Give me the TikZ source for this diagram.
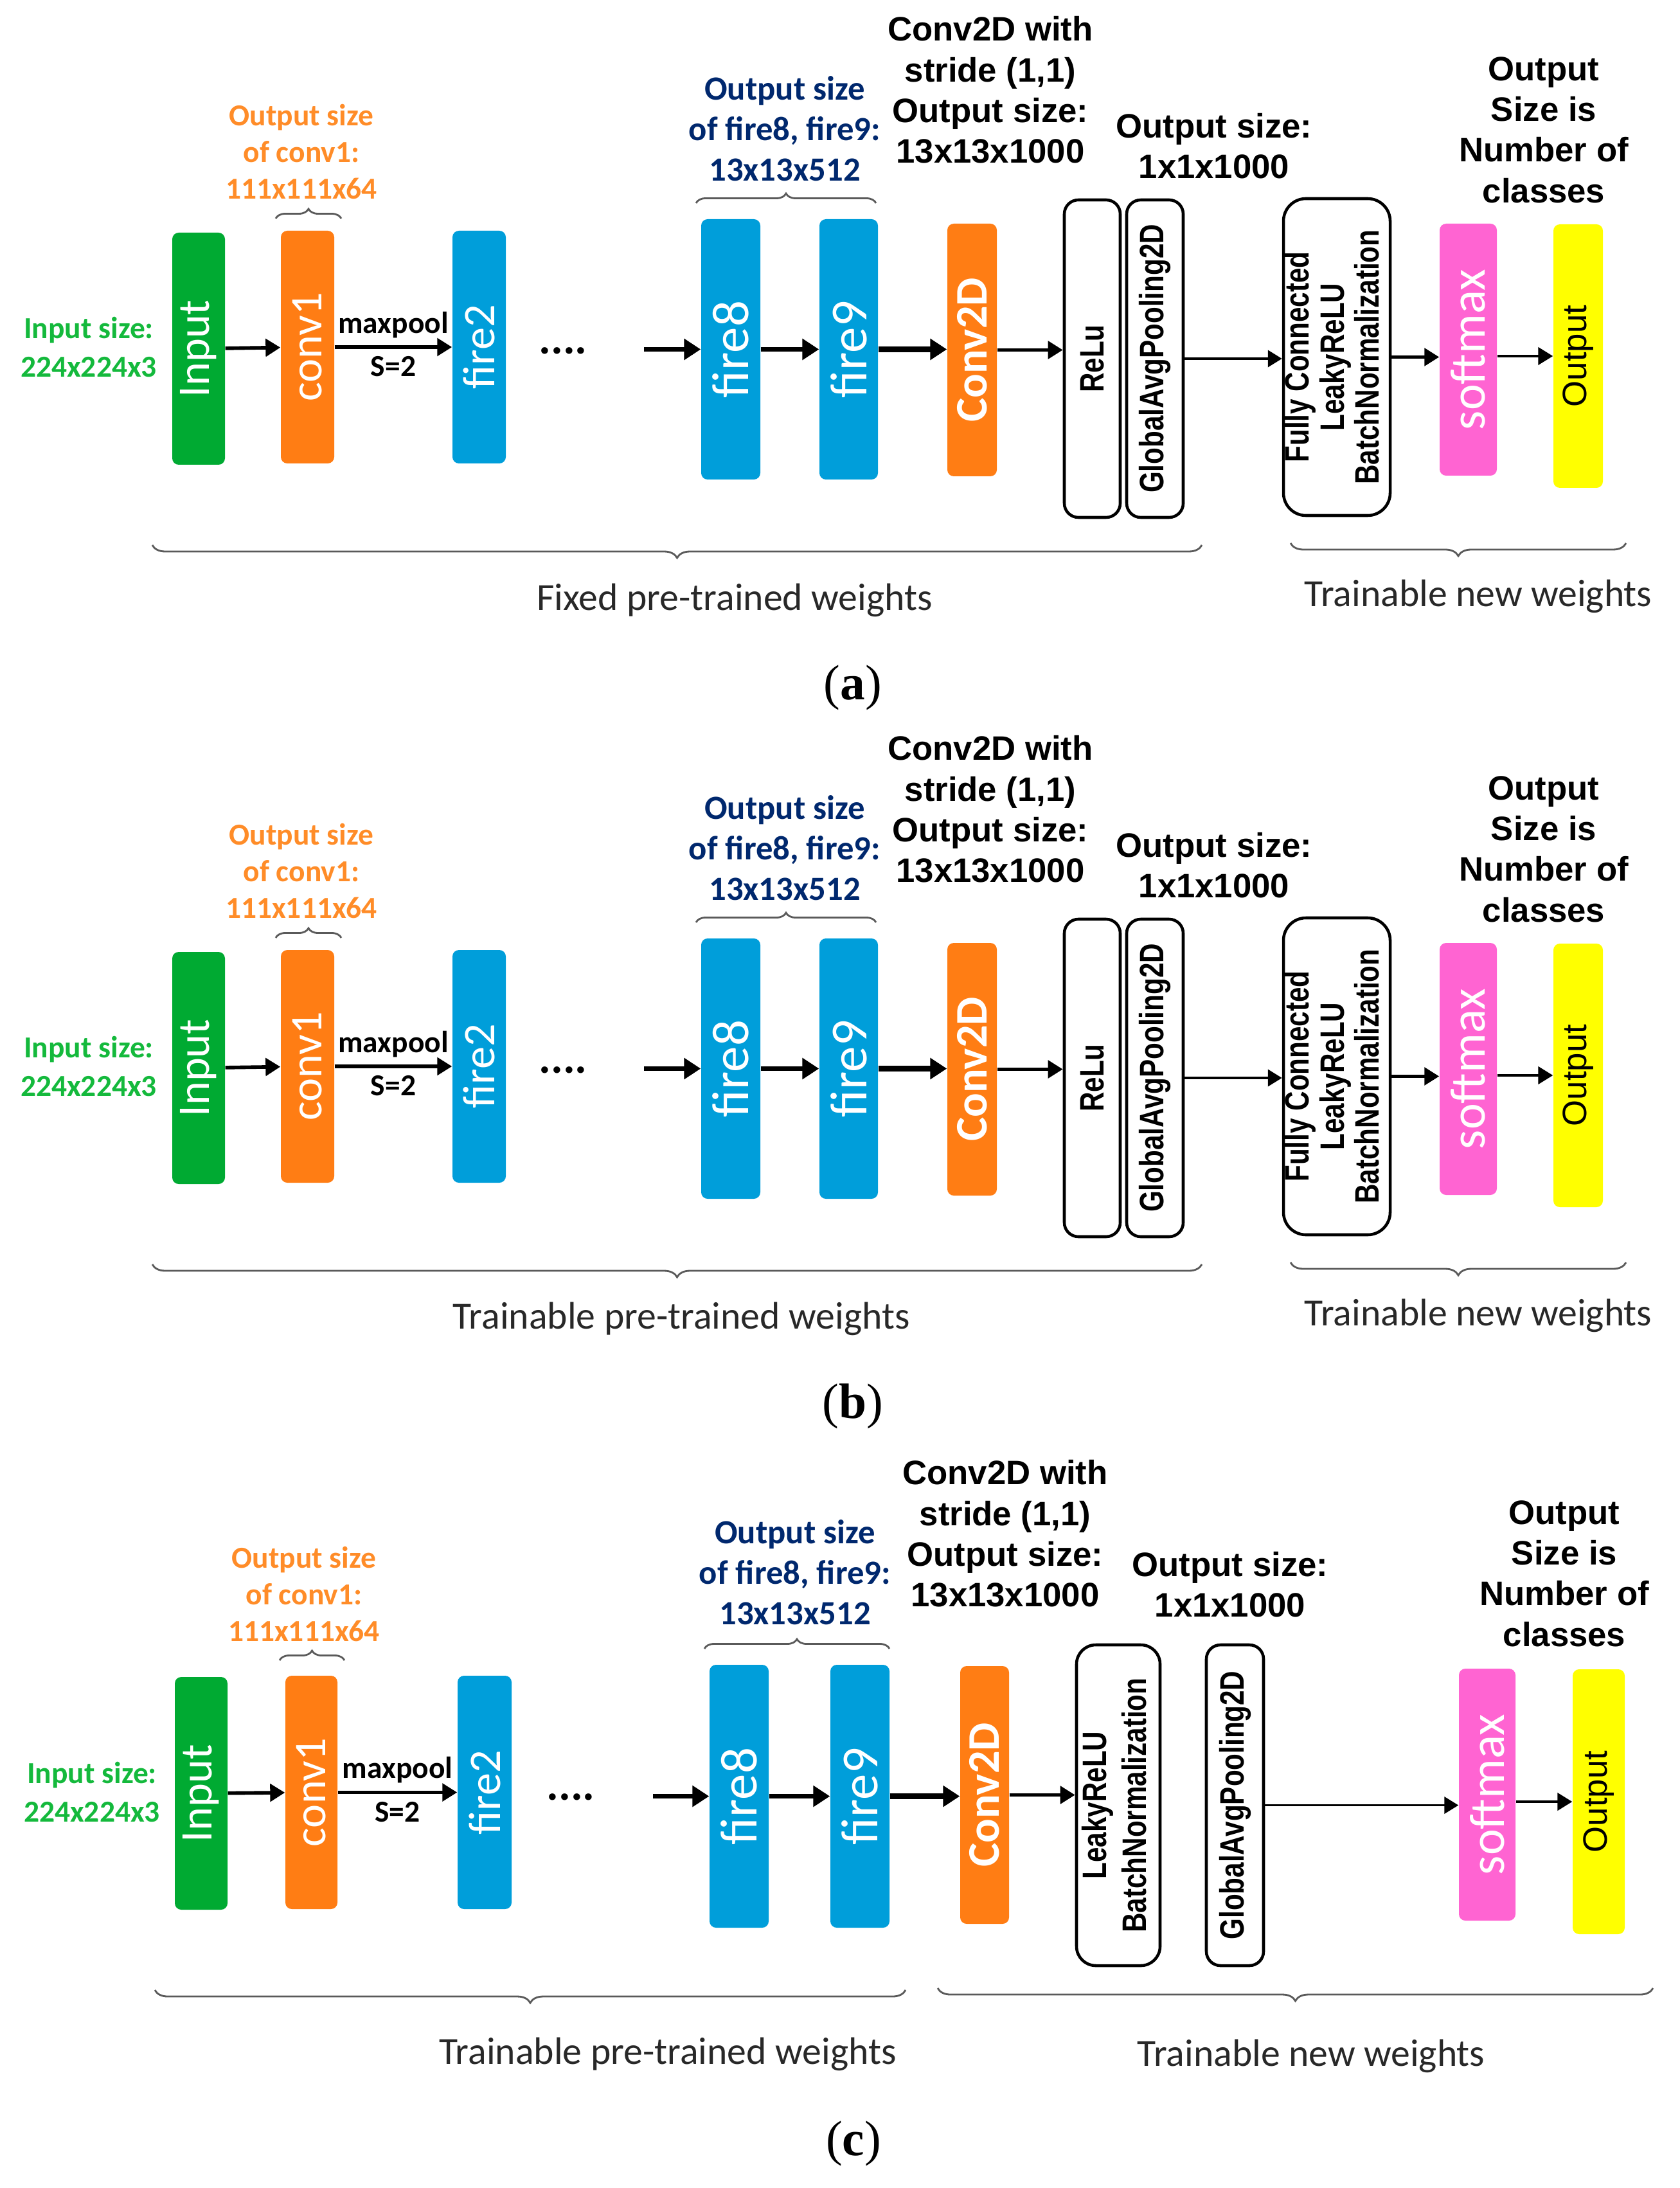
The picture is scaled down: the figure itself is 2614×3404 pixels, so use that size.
\documentclass[tikz,border=0pt]{standalone}
\usepackage{fontspec}
\usetikzlibrary{arrows.meta,decorations.pathreplacing}
\newfontfamily\carlito{Carlito}
\newfontfamily\arialf{Liberation Sans}
\newfontfamily\serifcap{Liberation Serif}
\definecolor{boxgreen}{RGB}{0,170,50}
\definecolor{boxorange}{RGB}{255,125,20}
\definecolor{boxblue}{RGB}{0,158,218}
\definecolor{boxpink}{RGB}{255,100,210}
\definecolor{boxyellow}{RGB}{255,255,0}
\definecolor{txtorange}{RGB}{255,140,40}
\definecolor{txtnavy}{RGB}{0,40,110}
\definecolor{txtgreen}{RGB}{20,185,60}
\definecolor{txtgray}{RGB}{40,40,40}
\definecolor{bracegray}{RGB}{90,90,90}
\newcommand{\vtxt}[1]{\rotatebox{90}{#1}}
\newcommand{\vbold}[1]{\rotatebox{90}{\scalebox{1}[1.25]{#1}}}
\begin{document}
\begin{tikzpicture}[x=0.1mm, y=-0.1mm,
    layer/.style={rectangle, rounded corners=1mm, inner sep=0pt, text=white,
      font=\carlito\fontsize{20}{24}\selectfont},
    plainlayer/.style={rectangle, draw, line width=1.3pt, rounded corners=2.2mm,
      fill=white, inner sep=0pt, font=\arialf\bfseries\fontsize{12}{12.5}\selectfont},
    arr/.style={-{Triangle[length=2.3mm,width=2.7mm]}, line width=1.6pt},
    bigarr/.style={-{Triangle[length=2.6mm,width=3.2mm]}, line width=2.2pt},
    thinarr/.style={-{Triangle[length=2.2mm,width=2.6mm]}, line width=1.1pt},
    brc/.style={decorate, decoration={brace, amplitude=2mm}, line width=0.8pt, draw=bracegray},
    topbrc/.style={brc, decoration={brace, amplitude=1.5mm}},
    toplbl/.style={align=center, font=\arialf\bfseries\fontsize{15}{18}\selectfont},
    orangelbl/.style={align=center, text=txtorange, font=\carlito\bfseries\fontsize{13.5}{16.2}\selectfont},
    navylbl/.style={align=center, text=txtnavy, font=\carlito\bfseries\fontsize{15}{18}\selectfont},
    greenlbl/.style={align=center, text=txtgreen, font=\carlito\bfseries\fontsize{13.5}{17}\selectfont},
    poollbl/.style={font=\carlito\bfseries\fontsize{13.5}{16}\selectfont},
    weightlbl/.style={text=txtgray, font=\carlito\fontsize{17}{20}\selectfont},
    panellbl/.style={font=\serifcap\fontsize{22}{26}\selectfont}]
  \useasboundingbox[fill=white] (0,0) rectangle (2614,3404);

  % (a)
  \node[layer, fill=boxgreen, minimum width=8.2mm, minimum height=36.1mm] (a-in) at (309,542.5) {\vtxt{Input}};
  \node[layer, fill=boxorange, minimum width=8.3mm, minimum height=36.2mm] (a-c1) at (478.5,540) {\vtxt{conv1}};
  \node[layer, fill=boxblue, minimum width=8.3mm, minimum height=36.2mm] (a-f2) at (745.5,540) {\vtxt{fire2}};
  \node[poollbl, font=\carlito\bfseries\fontsize{20}{24}\selectfont] (a-dt) at (876,546) {....};
  \coordinate (a-pre) at (1002,543.5);
  \node[layer, fill=boxblue, minimum width=9.2mm, minimum height=40.5mm, font=\carlito\fontsize{23}{27}\selectfont] (a-f8) at (1137,543.5) {\vtxt{fire8}};
  \node[layer, fill=boxblue, minimum width=9.1mm, minimum height=40.5mm, font=\carlito\fontsize{23}{27}\selectfont] (a-f9) at (1320.5,543.5) {\vtxt{fire9}};
  \node[layer, fill=boxorange, minimum width=7.7mm, minimum height=39.3mm, font=\carlito\bfseries\fontsize{20}{24}\selectfont] (a-cv) at (1512.5,544.5) {\vtxt{Conv2D}};
  \node[plainlayer, minimum width=8.7mm, minimum height=49.4mm] (a-relu) at (1699.5,558) {\vbold{ReLu}};
  \node[plainlayer, minimum width=8.8mm, minimum height=49.4mm] (a-gap) at (1797,558) {\vbold{GlobalAvgPooling2D}};
  \node[plainlayer, rounded corners=3.5mm, minimum width=16.6mm, minimum height=49.3mm] (a-fc) at (2080,555.5)
    {\vbold{\begin{tabular}{@{}c@{}}Fully Connected\\LeakyReLU\\BatchNormalization\end{tabular}}};
  \node[layer, fill=boxpink, minimum width=8.9mm, minimum height=39.2mm, font=\carlito\fontsize{22}{26}\selectfont] (a-sm) at (2284.5,544) {\vtxt{softmax}};
  \node[layer, fill=boxyellow, text=black, minimum width=7.7mm, minimum height=41mm, font=\arialf\fontsize{15}{18}\selectfont] (a-out) at (2455.5,554) {\vtxt{Output}};

  \node[greenlbl] (a-ins) at (138,540) {Input size:\\224x224x3};
  \node[orangelbl] (a-c1s) at (469,236) {Output size\\of conv1:\\111x111x64};
  \node[navylbl] (a-f9s) at (1221,200) {Output size\\of fire8, fire9:\\13x13x512};
  \node[toplbl] (a-cvs) at (1541,140) {Conv2D with\\stride (1,1)\\Output size:\\13x13x1000};
  \node[toplbl] (a-gaps) at (1889,227) {Output size:\\1x1x1000};
  \node[toplbl] (a-sms) at (2402,202) {Output\\Size is\\Number of\\classes};
  \node[weightlbl] (a-fix) at (1143,934) {Fixed pre-trained weights};
  \node[weightlbl] (a-new) at (2300,928) {Trainable new weights};
  \node[panellbl] (a-cap) at (1327,1070) {(\textbf{a})};

  \draw[topbrc] (429,340) -- (531,340);
  \draw[topbrc] (1083,316) -- (1363,316);
  \draw[brc] (1870,848) -- (237,848);
  \draw[brc] (2530,845) -- (2008,845);

  \begin{scope}[arr]
    \draw (a-in) to (a-c1);
    \draw (a-c1) to node[poollbl, above] {maxpool} node[poollbl, below] {S=2} (a-f2);
    \draw[bigarr] (a-pre) to (a-f8);
    \draw[bigarr] (a-f8) to (a-f9);
    \draw[bigarr, line width=2.6pt] (a-f9) to (a-f9 -| a-cv.west);
    \draw (a-cv) to (a-cv -| a-relu.west);
    \draw[thinarr] (a-gap) to (a-gap -| a-fc.west);
    \draw (a-fc) to (a-fc -| a-sm.west);
    \draw[line width=1.3pt] (a-sm.east |- a-out) to (a-out);
  \end{scope}

  % (b)
  \node[layer, fill=boxgreen, minimum width=8.2mm, minimum height=36.1mm] (b-in) at (309,1661.5) {\vtxt{Input}};
  \node[layer, fill=boxorange, minimum width=8.3mm, minimum height=36.2mm] (b-c1) at (478.5,1659) {\vtxt{conv1}};
  \node[layer, fill=boxblue, minimum width=8.3mm, minimum height=36.2mm] (b-f2) at (745.5,1659) {\vtxt{fire2}};
  \node[poollbl, font=\carlito\bfseries\fontsize{20}{24}\selectfont] (b-dt) at (876,1665) {....};
  \coordinate (b-pre) at (1002,1662.5);
  \node[layer, fill=boxblue, minimum width=9.2mm, minimum height=40.5mm, font=\carlito\fontsize{23}{27}\selectfont] (b-f8) at (1137,1662.5) {\vtxt{fire8}};
  \node[layer, fill=boxblue, minimum width=9.1mm, minimum height=40.5mm, font=\carlito\fontsize{23}{27}\selectfont] (b-f9) at (1320.5,1662.5) {\vtxt{fire9}};
  \node[layer, fill=boxorange, minimum width=7.7mm, minimum height=39.3mm, font=\carlito\bfseries\fontsize{20}{24}\selectfont] (b-cv) at (1512.5,1663.5) {\vtxt{Conv2D}};
  \node[plainlayer, minimum width=8.7mm, minimum height=49.4mm] (b-relu) at (1699.5,1677) {\vbold{ReLu}};
  \node[plainlayer, minimum width=8.8mm, minimum height=49.4mm] (b-gap) at (1797,1677) {\vbold{GlobalAvgPooling2D}};
  \node[plainlayer, rounded corners=3.5mm, minimum width=16.6mm, minimum height=49.3mm] (b-fc) at (2080,1674.5)
    {\vbold{\begin{tabular}{@{}c@{}}Fully Connected\\LeakyReLU\\BatchNormalization\end{tabular}}};
  \node[layer, fill=boxpink, minimum width=8.9mm, minimum height=39.2mm, font=\carlito\fontsize{22}{26}\selectfont] (b-sm) at (2284.5,1663) {\vtxt{softmax}};
  \node[layer, fill=boxyellow, text=black, minimum width=7.7mm, minimum height=41mm, font=\arialf\fontsize{15}{18}\selectfont] (b-out) at (2455.5,1673) {\vtxt{Output}};

  \node[greenlbl] (b-ins) at (138,1659) {Input size:\\224x224x3};
  \node[orangelbl] (b-c1s) at (469,1355) {Output size\\of conv1:\\111x111x64};
  \node[navylbl] (b-f9s) at (1221,1319) {Output size\\of fire8, fire9:\\13x13x512};
  \node[toplbl] (b-cvs) at (1541,1259) {Conv2D with\\stride (1,1)\\Output size:\\13x13x1000};
  \node[toplbl] (b-gaps) at (1889,1346) {Output size:\\1x1x1000};
  \node[toplbl] (b-sms) at (2402,1321) {Output\\Size is\\Number of\\classes};
  \node[weightlbl] (b-tr) at (1060,2052) {Trainable pre-trained weights};
  \node[weightlbl] (b-new) at (2300,2047) {Trainable new weights};
  \node[panellbl] (b-cap) at (1327,2188) {(\textbf{b})};

  \draw[topbrc] (429,1459) -- (531,1459);
  \draw[topbrc] (1083,1435) -- (1363,1435);
  \draw[brc] (1870,1967) -- (237,1967);
  \draw[brc] (2530,1964) -- (2008,1964);

  \begin{scope}[arr]
    \draw (b-in) to (b-c1);
    \draw (b-c1) to node[poollbl, above] {maxpool} node[poollbl, below] {S=2} (b-f2);
    \draw[bigarr] (b-pre) to (b-f8);
    \draw[bigarr] (b-f8) to (b-f9);
    \draw[bigarr, line width=2.6pt] (b-f9) to (b-f9 -| b-cv.west);
    \draw (b-cv) to (b-cv -| b-relu.west);
    \draw[thinarr] (b-gap) to (b-gap -| b-fc.west);
    \draw (b-fc) to (b-fc -| b-sm.west);
    \draw[line width=1.3pt] (b-sm.east |- b-out) to (b-out);
  \end{scope}

  % (c)
  \node[layer, fill=boxgreen, minimum width=8.2mm, minimum height=36.2mm] (c-in) at (313,2790) {\vtxt{Input}};
  \node[layer, fill=boxorange, minimum width=8.1mm, minimum height=36.3mm] (c-c1) at (484.5,2788.5) {\vtxt{conv1}};
  \node[layer, fill=boxblue, minimum width=8.4mm, minimum height=36.3mm] (c-f2) at (754,2788.5) {\vtxt{fire2}};
  \node[poollbl, font=\carlito\bfseries\fontsize{20}{24}\selectfont] (c-dt) at (888,2796) {....};
  \coordinate (c-pre) at (1016,2794.5);
  \node[layer, fill=boxblue, minimum width=9.2mm, minimum height=40.9mm, font=\carlito\fontsize{23}{27}\selectfont] (c-f8) at (1150,2794.5) {\vtxt{fire8}};
  \node[layer, fill=boxblue, minimum width=9.2mm, minimum height=40.9mm, font=\carlito\fontsize{23}{27}\selectfont] (c-f9) at (1338,2794.5) {\vtxt{fire9}};
  \node[layer, fill=boxorange, minimum width=7.6mm, minimum height=40.1mm, font=\carlito\bfseries\fontsize{20}{24}\selectfont] (c-cv) at (1532,2792.5) {\vtxt{Conv2D}};
  \node[plainlayer, rounded corners=3mm, minimum width=13mm, minimum height=49.9mm, font=\arialf\bfseries\fontsize{12}{14}\selectfont] (c-lr) at (1740,2808.5)
    {\vbold{\begin{tabular}{@{}c@{}}LeakyReLU\\BatchNormalization\end{tabular}}};
  \node[plainlayer, minimum width=8.9mm, minimum height=49.9mm] (c-gap) at (1921.5,2808.5) {\vbold{GlobalAvgPooling2D}};
  \node[layer, fill=boxpink, minimum width=8.8mm, minimum height=39.2mm, font=\carlito\fontsize{22}{26}\selectfont] (c-sm) at (2314,2792) {\vtxt{softmax}};
  \node[layer, fill=boxyellow, text=black, minimum width=8.1mm, minimum height=41.2mm, font=\arialf\fontsize{15}{18}\selectfont] (c-out) at (2487.5,2803) {\vtxt{Output}};

  \node[greenlbl] (c-ins) at (143,2788) {Input size:\\224x224x3};
  \node[orangelbl] (c-c1s) at (473,2480) {Output size\\of conv1:\\111x111x64};
  \node[navylbl] (c-f9s) at (1237,2446) {Output size\\of fire8, fire9:\\13x13x512};
  \node[toplbl] (c-cvs) at (1564,2386) {Conv2D with\\stride (1,1)\\Output size:\\13x13x1000};
  \node[toplbl] (c-gaps) at (1914,2465) {Output size:\\1x1x1000};
  \node[toplbl] (c-sms) at (2434,2448) {Output\\Size is\\Number of\\classes};
  \node[weightlbl] (c-tr) at (1039,3196) {Trainable pre-trained weights};
  \node[weightlbl] (c-new) at (2040,3199) {Trainable new weights};
  \node[panellbl] (c-cap) at (1328,3335) {(\textbf{c})};

  \draw[topbrc] (435,2583) -- (536,2583);
  \draw[topbrc] (1096,2565) -- (1384,2565);
  \draw[brc] (1409,3096) -- (241,3096);
  \draw[brc] (2572,3093) -- (1459,3093);

  \begin{scope}[arr]
    \draw (c-in) to (c-c1);
    \draw (c-c1) to node[poollbl, above] {maxpool} node[poollbl, below] {S=2} (c-f2);
    \draw[bigarr] (c-pre) to (c-f8);
    \draw[bigarr] (c-f8) to (c-f9);
    \draw[bigarr, line width=2.6pt] (c-f9) to (c-f9 -| c-cv.west);
    \draw (c-cv) to (c-cv -| c-lr.west);
    \draw[thinarr] (c-gap) to (c-gap -| c-sm.west);
    \draw[line width=1.3pt] (c-sm.east |- c-out) to (c-out);
  \end{scope}
\end{tikzpicture}
\end{document}
